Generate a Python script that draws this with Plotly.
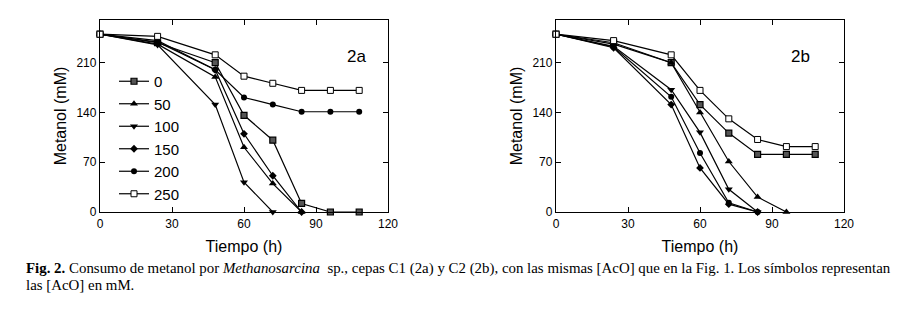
import plotly.graph_objects as go

time_h = [0, 24, 48, 60, 72, 84, 96, 108]
acetate_mM = ["0", "50", "100", "150", "200", "250"]

# Panel 2a (strain C1): methanol (mM)
a_0   = [250, 238, 210, 136, 101, 12, 0, 0]
a_50  = [250, 236, 190, 91, 40, 0, None, None]
a_100 = [250, 235, 151, 42, 0, None, None, None]
a_150 = [250, 239, 200, 110, 51, 0, None, None]
a_200 = [250, 241, 200, 161, 151, 141, 141, 141]
a_250 = [250, 247, 221, 191, 181, 171, 171, 171]

# Panel 2b (strain C2): methanol (mM)
b_0   = [250, 238, 210, 151, 111, 81, 81, 81]
b_50  = [250, 236, 210, 140, 71, 21, 0, None]
b_100 = [250, 233, 172, 112, 32, 0, None, None]
b_150 = [250, 231, 151, 62, 11, 0, None, None]
b_200 = [250, 232, 162, 83, 13, 0, None, None]
b_250 = [250, 241, 221, 171, 131, 102, 92, 92]

x_ticks = [0, 30, 60, 90, 120]
y_ticks = [0, 70, 140, 210]

panel_a = [a_0, a_50, a_100, a_150, a_200, a_250]
panel_b = [b_0, b_50, b_100, b_150, b_200, b_250]

styles = [
    dict(symbol="square", size=6, color="#555555", line=dict(color="black", width=1.2)),
    dict(symbol="triangle-up", size=7, color="black", line=dict(color="black", width=0)),
    dict(symbol="triangle-down", size=7, color="black", line=dict(color="black", width=0)),
    dict(symbol="diamond", size=6, color="black", line=dict(color="black", width=0)),
    dict(symbol="circle", size=6, color="black", line=dict(color="black", width=0)),
    dict(symbol="square", size=6, color="white", line=dict(color="black", width=1)),
]

fig = go.Figure()
for name, ys, st in zip(acetate_mM, panel_a, styles):
    fig.add_trace(go.Scatter(x=time_h, y=ys, mode="lines+markers", name=name,
                             line=dict(color="black", width=1.2), marker=st,
                             xaxis="x", yaxis="y", showlegend=True, cliponaxis=False))
for name, ys, st in zip(acetate_mM, panel_b, styles):
    fig.add_trace(go.Scatter(x=time_h, y=ys, mode="lines+markers", name=name,
                             line=dict(color="black", width=1.2), marker=st,
                             xaxis="x2", yaxis="y2", showlegend=False, cliponaxis=False))

# page body has an 8px margin; lay out in page coordinates minus that offset
OFF = 8
W, H = 911 - 2 * OFF, 322 - 2 * OFF


def px(x):
    return (x - OFF) / W


def py(y):
    return 1 - (y - OFF) / H


axis_common = dict(showline=True, linecolor="black", linewidth=1.3, mirror="ticks",
                   ticks="inside", ticklen=5, tickcolor="black", tickwidth=1,
                   showgrid=False, zeroline=False, automargin=False,
                   tickfont=dict(family="Liberation Sans, Arial", size=12, color="black"))

xd1 = [px(100), px(388)]
xd2 = [px(556), px(844)]
yd = [py(212), py(20)]

fig.update_layout(
    width=W, height=H,
    margin=dict(l=0, r=0, t=0, b=0, autoexpand=False),
    paper_bgcolor="white", plot_bgcolor="white",
    font=dict(family="Liberation Sans, Arial", color="black"),
    xaxis=dict(domain=xd1, range=[0, 120], tickvals=x_ticks, anchor="y",
               title=dict(text="Tiempo (h)", font=dict(size=16), standoff=11), **axis_common),
    yaxis=dict(domain=yd, range=[0, 270], tickvals=y_ticks, anchor="x",
               title=dict(text="Metanol (mM)", font=dict(size=16), standoff=5), **axis_common),
    xaxis2=dict(domain=xd2, range=[0, 120], tickvals=x_ticks, anchor="y2",
                title=dict(text="Tiempo (h)", font=dict(size=16), standoff=11), **axis_common),
    yaxis2=dict(domain=yd, range=[0, 270], tickvals=y_ticks, anchor="x2",
                title=dict(text="Metanol (mM)", font=dict(size=16), standoff=5), **axis_common),
    legend=dict(x=px(114), y=py(65), xanchor="left", yanchor="top",
                bgcolor="rgba(0,0,0,0)", font=dict(size=15, family="Liberation Sans, Arial"),
                itemwidth=30, tracegroupgap=0, traceorder="normal"),
    showlegend=True,
)

fig.add_annotation(x=px(356), y=py(45), xref="paper", yref="paper",
                   text="2a", showarrow=False, font=dict(size=17, family="Liberation Sans, Arial"))
fig.add_annotation(x=px(812), y=py(45), xref="paper", yref="paper",
                   text="2b", showarrow=False, font=dict(size=17, family="Liberation Sans, Arial"))

caption_1 = ("<b>Fig. 2.</b> Consumo de metanol por <i>Methanosarcina</i>  sp., cepas C1 (2a) y C2 (2b), "
             "con las mismas [AcO] que en la Fig. 1. Los símbolos representan")
caption_2 = "las [AcO] en mM."
cap_font = dict(size=14.9, family="Liberation Serif, Times New Roman")
fig.add_annotation(x=px(24), y=py(268), xref="paper", yref="paper",
                   xanchor="left", yanchor="middle", align="left", showarrow=False,
                   text=caption_1, font=cap_font)
fig.add_annotation(x=px(24), y=py(285), xref="paper", yref="paper",
                   xanchor="left", yanchor="middle", align="left", showarrow=False,
                   text=caption_2, font=cap_font)

fig.write_html("out.html")
